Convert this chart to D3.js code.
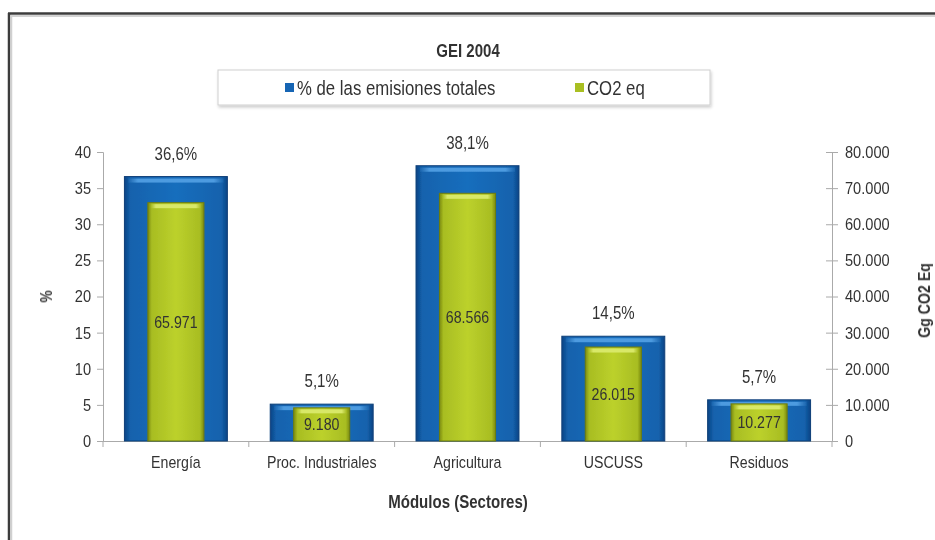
<!DOCTYPE html>
<html>
<head>
<meta charset="utf-8">
<script src="https://cdn.jsdelivr.net/npm/d3@7"></script>
<style>
  html, body { margin: 0; padding: 0; background: #fff; }
  svg { display: block; }
  text { font-family: "Liberation Sans", Arial, sans-serif; fill: #333; }
</style>
</head>
<body>
<svg id="chart" width="935" height="540"></svg>
<script>
// Sectors and their emissions (GEI 2004)
const sectors = ["Energía", "Proc. Industriales", "Agricultura", "USCUSS", "Residuos"];
const sharePct = [36.6, 5.1, 38.1, 14.5, 5.7];            // % de las emisiones totales
const co2Eq = [65971, 9180, 68566, 26015, 10277];         // Gg CO2 eq
const pctTicks = [0, 5, 10, 15, 20, 25, 30, 35, 40];
const ggTicks = [0, 10000, 20000, 30000, 40000, 50000, 60000, 70000, 80000];

const svg = d3.select("#chart");
const W = 935, H = 540;
const plot = { left: 103, right: 832, top: 152, bottom: 441 };
const FONT = "Liberation Sans, Arial, sans-serif";
const SX = 0.86;   // horizontal squeeze giving a narrow face

// Number formats with Spanish separators
const fmtPct = d => d.toFixed(1).replace(".", ",") + "%";
const fmtGg = d => d3.format(",")(d).replace(/,/g, ".");

// Place a text node at (x, y), condensed horizontally
const at = (x, y, rot) => `translate(${x},${y})${rot ? ` rotate(${rot})` : ""} scale(${SX},1)`;

const defs = svg.append("defs");
function hGrad(id, stops) {
  const g = defs.append("linearGradient").attr("id", id)
    .attr("x1", "0").attr("x2", "1").attr("y1", "0").attr("y2", "0");
  stops.forEach(([o, c]) => g.append("stop").attr("offset", o).attr("stop-color", c));
}
hGrad("blueBar", [[0, "#0b4485"], [0.06, "#1462ad"], [0.5, "#196ebd"], [0.94, "#1462ad"], [1, "#0b4485"]]);
hGrad("greenBar", [[0, "#7a8a10"], [0.07, "#a8bd22"], [0.5, "#bcd12c"], [0.93, "#a8bd22"], [1, "#7a8a10"]]);
hGrad("blueTop", [[0, "#1a64ad"], [0.1, "#4d9be0"], [0.9, "#4d9be0"], [1, "#1a64ad"]]);
hGrad("greenTop", [[0, "#a5b820"], [0.1, "#d8e868"], [0.9, "#d8e868"], [1, "#a5b820"]]);
const soft = defs.append("filter").attr("id", "soft");
soft.append("feGaussianBlur").attr("stdDeviation", 0.35);
const shadow = defs.append("filter").attr("id", "shadow").attr("x", "-5%").attr("y", "-20%").attr("width", "110%").attr("height", "150%");
shadow.append("feDropShadow").attr("dx", 1).attr("dy", 2).attr("stdDeviation", 1.5).attr("flood-color", "#000").attr("flood-opacity", 0.2);

// Outer frame
svg.append("line").attr("x1", 8).attr("x2", W).attr("y1", 13.5).attr("y2", 13.5)
  .attr("stroke", "#3c3c3c").attr("stroke-width", 2.5);
svg.append("line").attr("x1", 9).attr("x2", 9).attr("y1", 13).attr("y2", H)
  .attr("stroke", "#3c3c3c").attr("stroke-width", 2.5);
svg.append("line").attr("x1", 11).attr("x2", W).attr("y1", 16).attr("y2", 16)
  .attr("stroke", "#c4c4c4").attr("stroke-width", 1.5);
svg.append("line").attr("x1", 11.5).attr("x2", 11.5).attr("y1", 16).attr("y2", H)
  .attr("stroke", "#d0d0d0").attr("stroke-width", 1.5);

const g = svg.append("g").attr("filter", "url(#soft)");

// Scales
const x = d3.scaleBand().domain(sectors).range([plot.left, plot.right])
  .paddingInner(0.294).paddingOuter(0.147);
const yPct = d3.scaleLinear().domain([0, 40]).range([plot.bottom, plot.top]);
const yGg = d3.scaleLinear().domain([0, 80000]).range([plot.bottom, plot.top]);

// Left axis (%)
const leftAxis = g.append("g").attr("transform", `translate(${plot.left},0)`)
  .call(d3.axisLeft(yPct).tickValues(pctTicks).tickSize(6).tickPadding(6));
// Right axis (Gg CO2 eq)
const rightAxis = g.append("g").attr("transform", `translate(${plot.right},0)`)
  .call(d3.axisRight(yGg).tickValues(ggTicks).tickFormat(fmtGg).tickSize(6).tickPadding(8));
rightAxis.selectAll(".tick line").attr("x1", -6);
[leftAxis, rightAxis].forEach(a => {
  a.select(".domain").attr("stroke", "#aaa");
  a.selectAll(".tick line").attr("stroke", "#aaa");
  a.selectAll(".tick text").attr("font-size", 17).attr("fill", "#333").attr("font-family", FONT)
    .attr("transform", `scale(${SX},1)`);
});
leftAxis.selectAll(".tick text").attr("x", -12 / SX);
rightAxis.selectAll(".tick text").attr("x", 13 / SX);

// Category axis with ticks between categories
const step = x.step();
const bounds = d3.range(sectors.length + 1).map(i => plot.left + i * step);
g.append("line").attr("x1", plot.left).attr("x2", plot.right)
  .attr("y1", plot.bottom + 0.5).attr("y2", plot.bottom + 0.5).attr("stroke", "#aaa");
g.selectAll(".xtick").data(bounds).join("line")
  .attr("x1", d => d).attr("x2", d => d)
  .attr("y1", plot.bottom).attr("y2", plot.bottom + 6).attr("stroke", "#aaa");
g.selectAll(".xlab").data(sectors).join("text")
  .attr("transform", d => at(x(d) + x.bandwidth() / 2, plot.bottom + 27))
  .attr("text-anchor", "middle").attr("font-size", 16.5).text(d => d);

// Blue bars: share of total emissions
const bw = x.bandwidth();
const bars = g.append("g");
sectors.forEach((s, i) => {
  const x0 = x(s), yTop = yPct(sharePct[i]);
  bars.append("rect").attr("x", x0).attr("y", yTop).attr("width", bw)
    .attr("height", plot.bottom - yTop).attr("fill", "url(#blueBar)")
    .attr("stroke", "#0b3f78").attr("stroke-width", 1);
  bars.append("rect").attr("x", x0 + 4).attr("y", yTop + 2).attr("width", bw - 8)
    .attr("height", 4).attr("fill", "url(#blueTop)");
});

// Green bars: CO2 eq (right axis)
const gw = bw * 0.545;
sectors.forEach((s, i) => {
  const cx = x(s) + bw / 2, yTop = yGg(co2Eq[i]);
  bars.append("rect").attr("x", cx - gw / 2).attr("y", yTop).attr("width", gw)
    .attr("height", plot.bottom - yTop).attr("fill", "url(#greenBar)")
    .attr("stroke", "#6f7d0e").attr("stroke-width", 1);
  bars.append("rect").attr("x", cx - gw / 2 + 3).attr("y", yTop + 1.5).attr("width", gw - 6)
    .attr("height", 4).attr("fill", "url(#greenTop)");
});

// Value labels
g.selectAll(".pctlab").data(sectors).join("text")
  .attr("transform", (d, i) => at(x(d) + bw / 2, yPct(sharePct[i]) - 17))
  .attr("text-anchor", "middle").attr("font-size", 17.5).attr("fill", "#3a3a3a")
  .text((d, i) => fmtPct(sharePct[i]));
g.selectAll(".gglab").data(sectors).join("text")
  .attr("transform", (d, i) => at(x(d) + bw / 2, (yGg(co2Eq[i]) + plot.bottom) / 2 + 6))
  .attr("text-anchor", "middle").attr("font-size", 16.5).attr("fill", "#2a3300")
  .text((d, i) => fmtGg(co2Eq[i]));

// Axis titles
g.append("text").attr("transform", at(458, 508))
  .attr("text-anchor", "middle").attr("font-size", 17.5).attr("font-weight", "bold").attr("fill", "#222")
  .text("Módulos (Sectores)");
g.append("text").attr("transform", at(52, (plot.top + plot.bottom) / 2, -90))
  .attr("text-anchor", "middle").attr("font-size", 16).attr("font-weight", "bold").attr("fill", "#222")
  .text("%");
g.append("text").attr("transform", at(930, (plot.top + plot.bottom) / 2 + 4, -90))
  .attr("text-anchor", "middle").attr("font-size", 16.5).attr("font-weight", "bold").attr("fill", "#222")
  .text("Gg CO2 Eq");

// Title
g.append("text").attr("transform", at(468, 57)).attr("text-anchor", "middle")
  .attr("font-size", 17.5).attr("font-weight", "bold").attr("fill", "#222").text("GEI 2004");

// Legend
const leg = g.append("g");
leg.append("rect").attr("x", 218).attr("y", 70).attr("width", 492).attr("height", 35)
  .attr("fill", "#fff").attr("stroke", "#cfcfcf").attr("filter", "url(#shadow)");
const items = [
  { label: "% de las emisiones totales", color: "#1565b4", x: 285 },
  { label: "CO2 eq", color: "#a9bf22", x: 575 }
];
items.forEach(it => {
  leg.append("rect").attr("x", it.x).attr("y", 83).attr("width", 9).attr("height", 9)
    .attr("fill", it.color);
  leg.append("text").attr("transform", at(it.x + 12, 95)).attr("font-size", 19.5)
    .attr("fill", "#333").text(it.label);
});
</script>
</body>
</html>
